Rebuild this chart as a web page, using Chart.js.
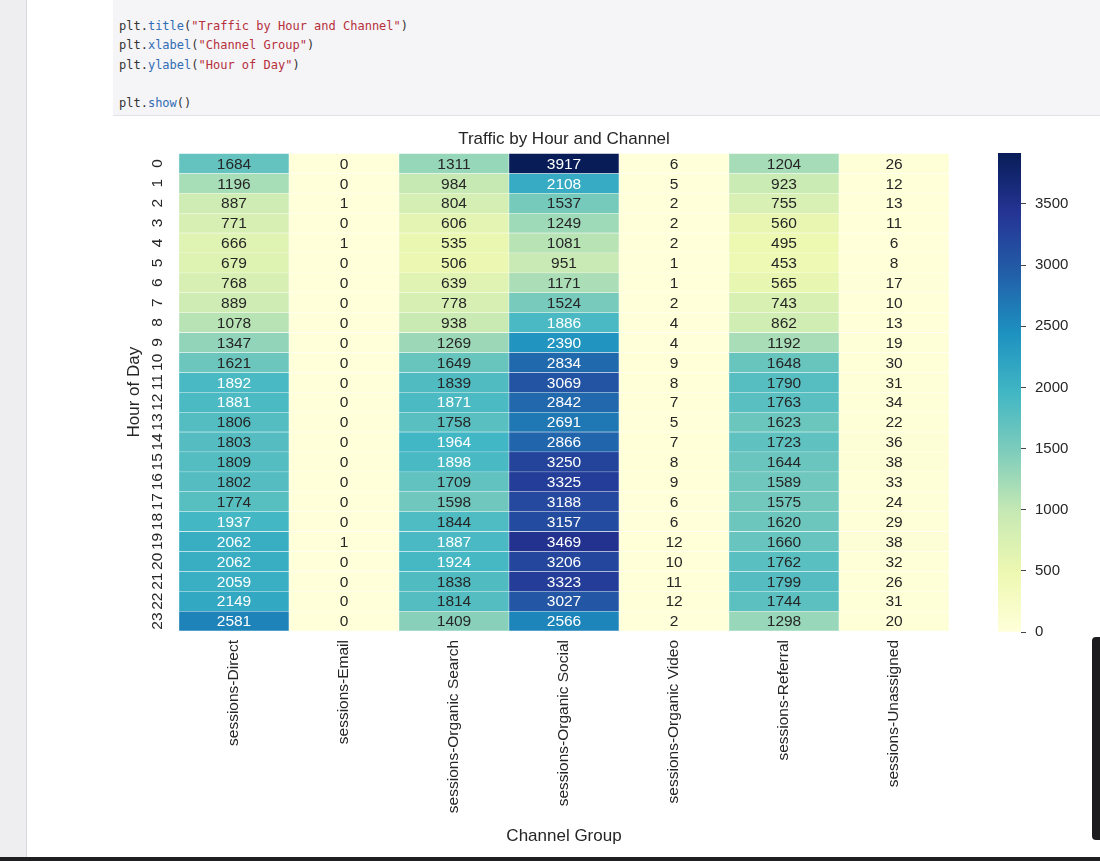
<!DOCTYPE html>
<html>
<head>
<meta charset="utf-8">
<script src="https://cdn.jsdelivr.net/npm/chart.js@4"></script>
<style>
  html, body { margin: 0; padding: 0; width: 1100px; height: 861px; overflow: hidden; background: #ffffff; }
  #leftstrip { position: absolute; left: 0; top: 0; width: 26px; height: 861px; background: #eeedf0; border-right: 1px solid #d8d8dc; }
  #code { position: absolute; left: 113px; top: 0; width: 987px; height: 115px; background: #f5f4f7; border-bottom: 1px solid #e2e1e6; }
  #code pre { position: absolute; left: 6px; top: 17px; margin: 0; font-family: "DejaVu Sans Mono", monospace; font-size: 12px; line-height: 19.3px; color: #333; }
  .fn { color: #2f6db5; }
  .st { color: #b5303c; }
  #main { position: absolute; left: 100px; top: 120px; }
  #cbar { position: absolute; left: 990px; top: 135px; }
  #rbar { position: absolute; left: 1092px; top: 637px; width: 8px; height: 203px; background: #1c1c1e; border-radius: 4px 0 0 4px; }
  #bbar { position: absolute; left: 0; top: 857px; width: 1100px; height: 4px; background: #1f1f21; }
</style>
</head>
<body>
<div id="leftstrip"></div>
<div id="code"><pre>plt.<span class="fn">title</span>(<span class="st">"Traffic by Hour and Channel"</span>)
plt.<span class="fn">xlabel</span>(<span class="st">"Channel Group"</span>)
plt.<span class="fn">ylabel</span>(<span class="st">"Hour of Day"</span>)

plt.<span class="fn">show</span>()</pre></div>
<canvas id="main" width="870" height="735" style="width:870px;height:735px"></canvas>
<canvas id="cbar" width="100" height="515" style="width:100px;height:515px"></canvas>
<div id="rbar"></div>
<div id="bbar"></div>
<script>
// ---- data ----
const channels = ["sessions-Direct", "sessions-Email", "sessions-Organic Search", "sessions-Organic Social", "sessions-Organic Video", "sessions-Referral", "sessions-Unassigned"];
const hours = ["0","1","2","3","4","5","6","7","8","9","10","11","12","13","14","15","16","17","18","19","20","21","22","23"];
const direct        = [1684,1196,887,771,666,679,768,889,1078,1347,1621,1892,1881,1806,1803,1809,1802,1774,1937,2062,2062,2059,2149,2581];
const email         = [0,0,1,0,1,0,0,0,0,0,0,0,0,0,0,0,0,0,0,1,0,0,0,0];
const organicSearch = [1311,984,804,606,535,506,639,778,938,1269,1649,1839,1871,1758,1964,1898,1709,1598,1844,1887,1924,1838,1814,1409];
const organicSocial = [3917,2108,1537,1249,1081,951,1171,1524,1886,2390,2834,3069,2842,2691,2866,3250,3325,3188,3157,3469,3206,3323,3027,2566];
const organicVideo  = [6,5,2,2,2,1,1,2,4,4,9,8,7,5,7,8,9,6,6,12,10,11,12,2];
const referral      = [1204,923,755,560,495,453,565,743,862,1192,1648,1790,1763,1623,1723,1644,1589,1575,1620,1660,1762,1799,1744,1298];
const unassigned    = [26,12,13,11,6,8,17,10,13,19,30,31,34,22,36,38,33,24,29,38,32,26,31,20];
const colorbarTicks = [0,500,1000,1500,2000,2500,3000,3500];

const series = [direct, email, organicSearch, organicSocial, organicVideo, referral, unassigned];
const vmin = 0;
const vmax = Math.max(...series.flat());

// ---- YlGnBu colormap ----
const YlGnBu = ["#ffffd9","#edf8b1","#c7e9b4","#7fcdbb","#41b6c4","#1d91c0","#225ea8","#253494","#081d58"];
function hexRgb(h){ return [parseInt(h.slice(1,3),16),parseInt(h.slice(3,5),16),parseInt(h.slice(5,7),16)]; }
const cmapRgb = YlGnBu.map(hexRgb);
function cmap(v){
  let t = (v - vmin) / (vmax - vmin);
  t = Math.max(0, Math.min(1, t));
  const p = t * (cmapRgb.length - 1);
  const i = Math.min(Math.floor(p), cmapRgb.length - 2);
  const f = p - i;
  const a = cmapRgb[i], b = cmapRgb[i+1];
  return [0,1,2].map(k => a[k] + (b[k]-a[k]) * f);
}
function rgbStr(c){ return "rgb(" + c.map(x => Math.round(x)).join(",") + ")"; }
function lum(c){
  const l = c.map(x => { x = x/255; return x <= 0.03928 ? x/12.92 : Math.pow((x+0.055)/1.055, 2.4); });
  return 0.2126*l[0] + 0.7152*l[1] + 0.0722*l[2];
}

const FONT = "'Liberation Sans', Arial, sans-serif";
const TXT = "#262626";

// one dataset per hour, stacked cells (each cell spans one hour)
const datasets = hours.map((h, hi) => ({
  label: h,
  data: channels.map(() => 1),
  backgroundColor: series.map(s => rgbStr(cmap(s[hi]))),
  borderColor: "#ffffff",
  borderWidth: 0.5,
  borderSkipped: false,
  barPercentage: 1.0,
  categoryPercentage: 1.0
}));

const annotate = {
  id: "annotate",
  afterDatasetsDraw(chart){
    const ctx = chart.ctx;
    ctx.save();
    ctx.font = "15.5px " + FONT;
    ctx.textAlign = "center";
    ctx.textBaseline = "middle";
    chart.data.datasets.forEach((ds, hi) => {
      const meta = chart.getDatasetMeta(hi);
      meta.data.forEach((el, ci) => {
        const v = series[ci][hi];
        const c = cmap(v);
        ctx.fillStyle = lum(c) > 0.408 ? TXT : "#ffffff";
        ctx.fillText(String(v), el.x, (el.y + el.base) / 2 + 1);
      });
    });
    ctx.restore();
  }
};

new Chart(document.getElementById("main"), {
  type: "bar",
  data: { labels: channels, datasets },
  plugins: [annotate],
  options: {
    responsive: false,
    animation: false,
    devicePixelRatio: 1,
    layout: { padding: { left: 0, right: 21, top: 0, bottom: 0 } },
    plugins: {
      legend: { display: false },
      tooltip: { enabled: false },
      title: {
        display: true,
        fullSize: false,
        text: "Traffic by Hour and Channel",
        color: TXT,
        font: { family: FONT, size: 17, weight: "normal" },
        padding: { top: 9, bottom: 4 }
      }
    },
    scales: {
      x: {
        stacked: true,
        grid: { display: false, drawTicks: false },
        border: { display: false },
        ticks: { color: TXT, font: { family: FONT, size: 15.5 }, minRotation: 90, maxRotation: 90, padding: 9, autoSkip: false },
        title: { display: true, text: "Channel Group", color: TXT, font: { family: FONT, size: 17 }, padding: { top: 4, bottom: 8 } },
        afterFit(scale){ scale.height = 224; }
      },
      y: {
        stacked: true,
        reverse: true,
        min: 0,
        max: hours.length,
        grid: { display: false, drawTicks: false },
        border: { display: false },
        afterBuildTicks(scale){ scale.ticks = hours.map((h, i) => ({ value: i + 0.5 })); },
        ticks: {
          color: TXT,
          font: { family: FONT, size: 15.5 },
          minRotation: 90,
          maxRotation: 90,
          crossAlign: "center",
          padding: 13,
          autoSkip: false,
          callback: (v) => hours[Math.round(v - 0.5)]
        },
        title: { display: true, text: "Hour of Day", color: TXT, font: { family: FONT, size: 17 }, padding: { top: 24, bottom: 0 } },
        afterFit(scale){ scale.width = 79; }
      }
    }
  }
});

// ---- colorbar ----
function gradientFill(context){
  const chart = context.chart;
  const area = chart.chartArea;
  if (!area) return YlGnBu[0];
  const g = chart.ctx.createLinearGradient(0, area.bottom, 0, area.top);
  YlGnBu.forEach((c, i) => g.addColorStop(i / (YlGnBu.length - 1), c));
  return g;
}

new Chart(document.getElementById("cbar"), {
  type: "bar",
  data: {
    labels: ["colorbar"],
    datasets: [{ data: [[vmin, vmax]], backgroundColor: gradientFill, borderWidth: 0, barPercentage: 1.0, categoryPercentage: 1.0 }]
  },
  options: {
    responsive: false,
    animation: false,
    devicePixelRatio: 1,
    layout: { padding: { left: 8, right: 0, top: 2, bottom: 1 } },
    plugins: { legend: { display: false }, tooltip: { enabled: false } },
    scales: {
      x: { display: false },
      y: {
        position: "right",
        min: vmin,
        max: vmax,
        afterBuildTicks(scale){ scale.ticks = colorbarTicks.map(v => ({ value: v })); },
        grid: { drawOnChartArea: false, drawTicks: true, tickLength: 5, color: "#444444", lineWidth: 1 },
        border: { display: false },
        ticks: { color: TXT, font: { family: FONT, size: 15 }, padding: 9, callback: (v) => String(v) },
        afterFit(scale){ scale.width = 69; }
      }
    }
  }
});
</script>
</body>
</html>
